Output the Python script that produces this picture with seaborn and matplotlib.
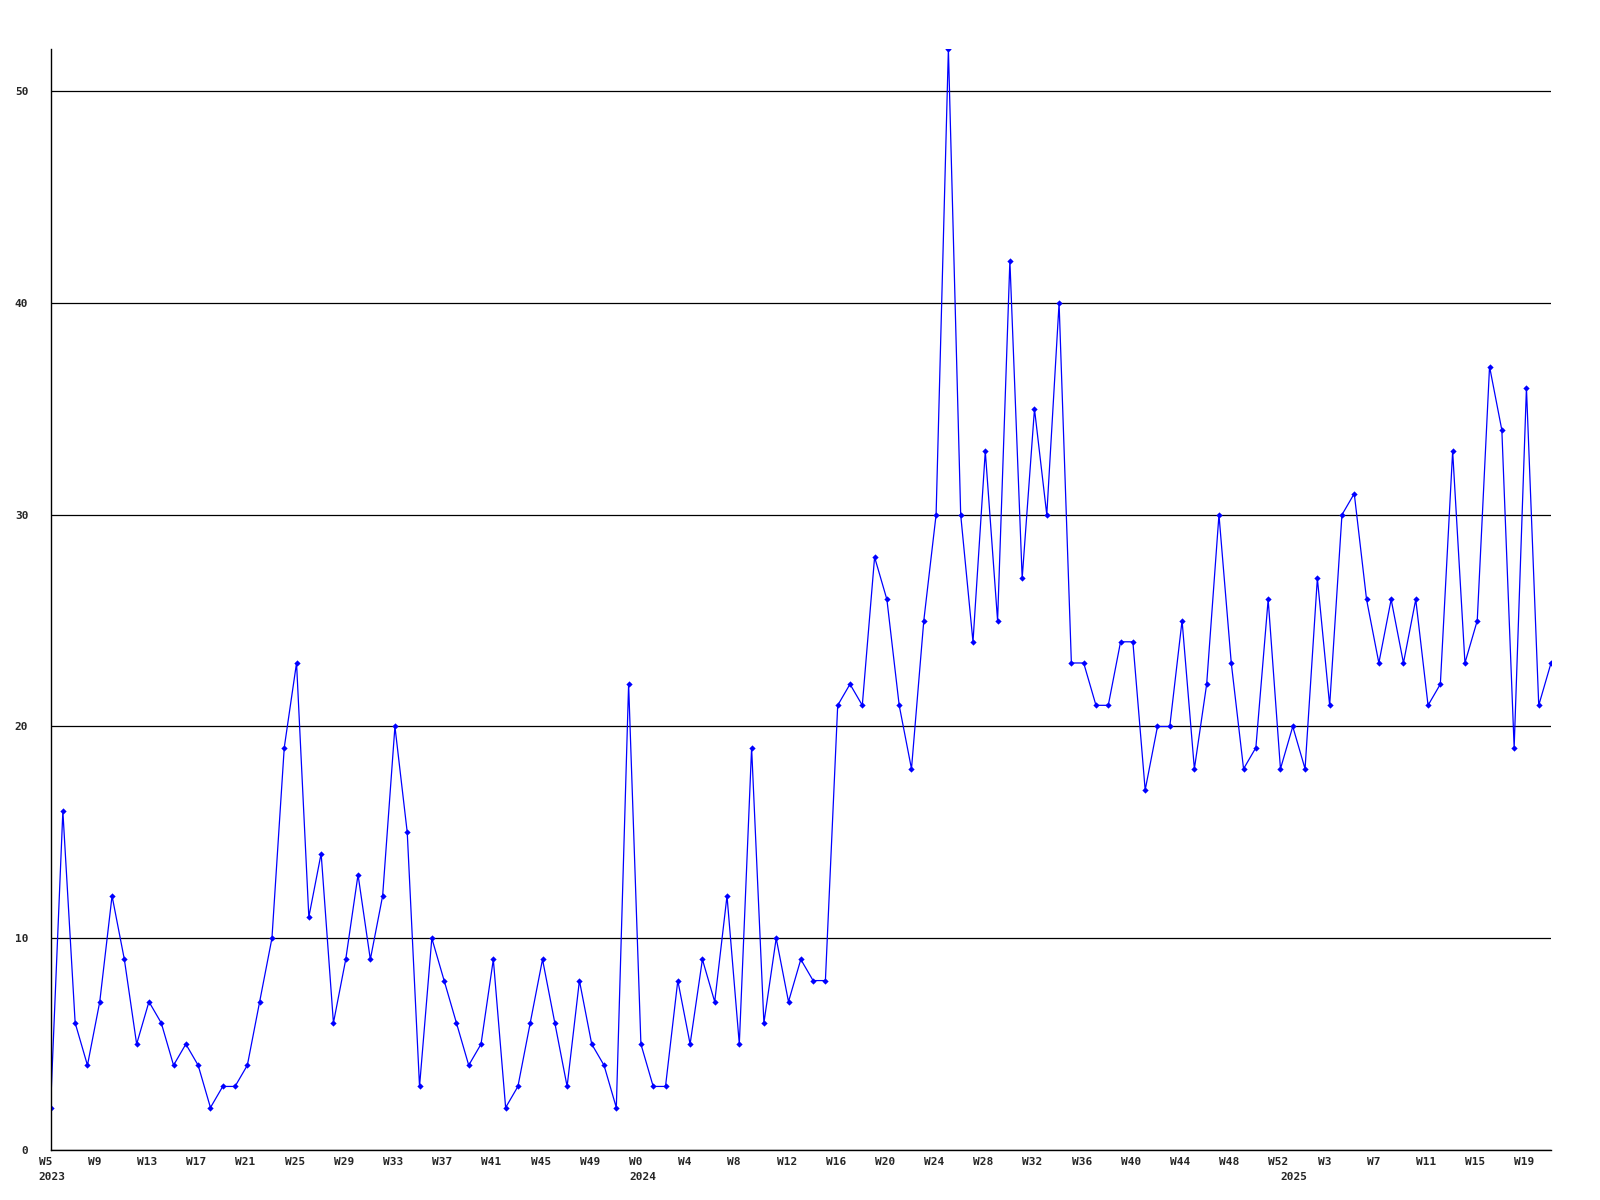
import numpy as np
import matplotlib
matplotlib.use("Agg")
import matplotlib.pyplot as plt
import matplotlib.transforms as mtransforms
import seaborn as sns

# weekly counts, W5 2023 .. W20 2025
counts = [2, 16, 6, 4, 7, 12, 9, 5, 7, 6, 4, 5, 4, 2, 3, 3, 4, 7, 10, 19,
          23, 11, 14, 6, 9, 13, 9, 12, 20, 15, 3, 10, 8, 6, 4, 5, 9, 2, 3, 6,
          9, 6, 3, 8, 5, 4, 2, 22, 5, 3, 3, 8, 5, 9, 7, 12, 5, 19, 6, 10,
          7, 9, 8, 8, 21, 22, 21, 28, 26, 21, 18, 25, 30, 52, 30, 24, 33, 25, 42, 27,
          35, 30, 40, 23, 23, 21, 21, 24, 24, 17, 20, 20, 25, 18, 22, 30, 23, 18, 19, 26,
          18, 20, 18, 27, 21, 30, 31, 26, 23, 26, 23, 26, 21, 22, 33, 23, 25, 37, 34, 19,
          36, 21, 23]

week_ticks = [0, 4, 8, 12, 16, 20, 24, 28, 32, 36, 40, 44, 48, 52, 56, 60,
              64, 68, 72, 76, 80, 84, 88, 92, 96, 100, 104, 108, 112, 116, 120]
week_labels = ["W5", "W9", "W13", "W17", "W21", "W25", "W29", "W33", "W37", "W41",
               "W45", "W49", "W0", "W4", "W8", "W12", "W16", "W20", "W24", "W28",
               "W32", "W36", "W40", "W44", "W48", "W52", "W3", "W7", "W11", "W15", "W19"]
year_ticks = [0, 48, 101]
year_labels = ["2023", "2024", "2025"]

sns.set_style("white")
plt.rcParams['font.family'] = ['DejaVu Sans Mono']

fig = plt.figure(figsize=(16, 12), dpi=100)
ax = fig.add_axes([0.0316, 0.0417, 0.9378, 0.9175])

x = np.arange(len(counts))
sns.lineplot(x=x, y=counts, ax=ax, color="#0000ff", linewidth=0.9,
             marker="D", markersize=3.2, markeredgewidth=0, markerfacecolor="#0000ff")

ax.set_xlim(0, len(counts) - 1)
ax.set_ylim(0, 52)
ax.set_yticks([0, 10, 20, 30, 40, 50])
ax.set_yticklabels(["0", "10", "20", "30", "40", "50"], fontsize=8, fontweight="bold")
ax.yaxis.grid(True, color="black", linewidth=0.9)
ax.xaxis.grid(False)
ax.tick_params(axis="y", length=0, pad=16)
ax.tick_params(axis="x", length=0, pad=5)

# week labels, left aligned a little before their tick
ax.set_xticks(week_ticks)
ax.set_xticklabels(week_labels, fontsize=8, fontweight="bold")
shift = mtransforms.ScaledTranslation(-12 / 100, 0, fig.dpi_scale_trans)
for lab in ax.get_xticklabels():
    lab.set_horizontalalignment("left")
    lab.set_transform(lab.get_transform() + shift)

# year under the first week of each year
ytrans = (mtransforms.blended_transform_factory(ax.transData, ax.transAxes)
          + mtransforms.ScaledTranslation(-12 / 100, -27 / 100, fig.dpi_scale_trans))
for t, lbl in zip(year_ticks, year_labels):
    ax.text(t, 0, lbl, transform=ytrans, ha="left", va="center",
            fontsize=8, fontweight="bold", clip_on=False)

for side in ["top", "right"]:
    ax.spines[side].set_visible(False)
for side in ["left", "bottom"]:
    ax.spines[side].set_color("black")
    ax.spines[side].set_linewidth(1.0)

ax.set_xlabel("")
ax.set_ylabel("")

fig.savefig("out.png", dpi=100)
